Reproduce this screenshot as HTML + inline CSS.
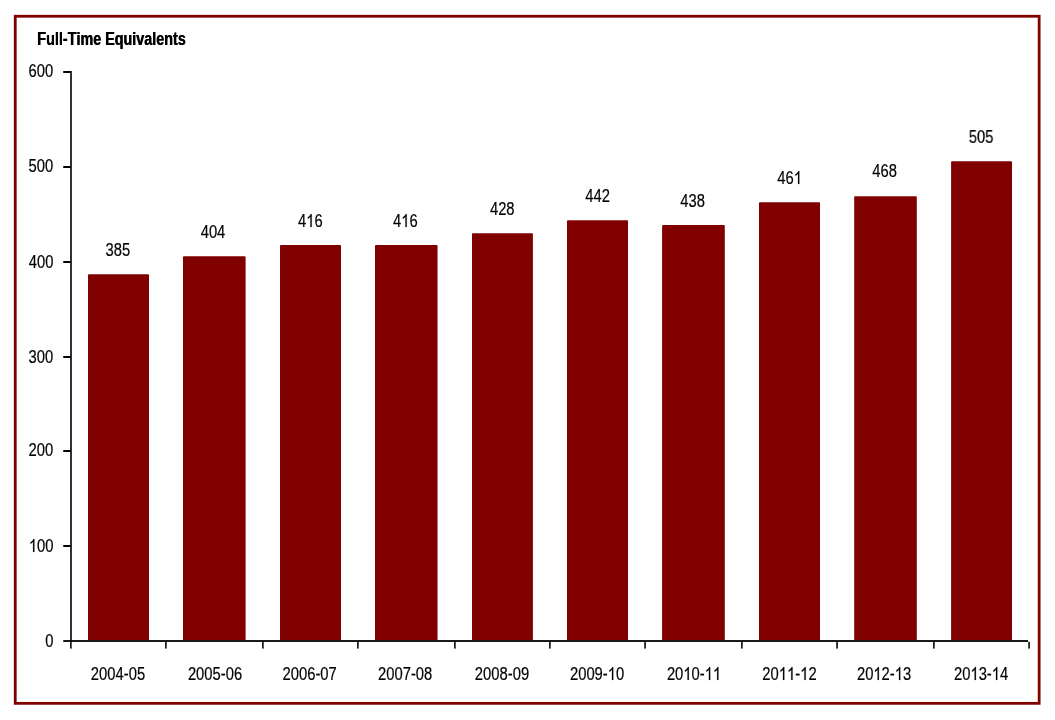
<!DOCTYPE html>
<html><head><meta charset="utf-8"><title>Full-Time Equivalents</title>
<style>
html,body{margin:0;padding:0;background:#fff;}
body{width:1055px;height:720px;overflow:hidden;font-family:"Liberation Sans",sans-serif;}
svg{display:block;will-change:transform;}
text{font-family:"Liberation Sans",sans-serif;fill:#000;font-size:17.6px;font-kerning:none;}
g.t{filter:grayscale(1);}
g.n text{stroke:#000;stroke-width:0.2;}
g.b text{font-weight:bold;}
path.one{fill:#000;stroke:#000;stroke-width:23.3;}
</style></head><body>
<svg width="1055" height="720" viewBox="0 0 1055 720">
<rect x="0" y="0" width="1055" height="720" fill="#ffffff"/>
<!-- outer frame -->
<rect x="15.25" y="16.25" width="1023.9" height="687.1" fill="none" stroke="#800000" stroke-width="2.8"/>
<!-- bars -->
<g fill="#800000">
<path d="M88.00 640.1V275.15Q88.00 274.25 88.90 274.25H148.10Q149.00 274.25 149.00 275.15V640.1Z"/>
<path d="M183.00 640.1V257.15Q183.00 256.25 183.90 256.25H244.70Q245.60 256.25 245.60 257.15V640.1Z"/>
<path d="M280.00 640.1V245.95Q280.00 245.05 280.90 245.05H340.10Q341.00 245.05 341.00 245.95V640.1Z"/>
<path d="M375.00 640.1V245.95Q375.00 245.05 375.90 245.05H436.60Q437.50 245.05 437.50 245.95V640.1Z"/>
<path d="M472.00 640.1V234.05Q472.00 233.15 472.90 233.15H532.00Q532.90 233.15 532.90 234.05V640.1Z"/>
<path d="M567.00 640.1V221.15Q567.00 220.25 567.90 220.25H627.10Q628.00 220.25 628.00 221.15V640.1Z"/>
<path d="M662.10 640.1V225.95Q662.10 225.05 663.00 225.05H723.90Q724.80 225.05 724.80 225.95V640.1Z"/>
<path d="M759.00 640.1V203.05Q759.00 202.15 759.90 202.15H819.10Q820.00 202.15 820.00 203.05V640.1Z"/>
<path d="M854.20 640.1V197.05Q854.20 196.15 855.10 196.15H915.90Q916.80 196.15 916.80 197.05V640.1Z"/>
<path d="M951.10 640.1V162.05Q951.10 161.15 952.00 161.15H1011.10Q1012.00 161.15 1012.00 162.05V640.1Z"/>
</g>
<!-- axes -->
<g fill="#000000">
<rect x="70.2" y="71" width="1.6" height="571"/>
<rect x="63.25" y="640.1" width="964.8" height="1.8"/>
<rect x="63.25" y="71.00" width="7.5" height="2"/>
<rect x="63.25" y="166.00" width="7.5" height="2"/>
<rect x="63.25" y="261.00" width="7.5" height="2"/>
<rect x="63.25" y="356.00" width="7.5" height="2"/>
<rect x="63.25" y="450.00" width="7.5" height="2"/>
<rect x="63.25" y="545.00" width="7.5" height="2"/>
<rect x="70.10" y="641.0" width="1.55" height="7.6"/>
<rect x="165.10" y="641.0" width="1.55" height="7.6"/>
<rect x="262.10" y="641.0" width="1.55" height="7.6"/>
<rect x="357.10" y="641.0" width="1.55" height="7.6"/>
<rect x="454.10" y="641.0" width="1.55" height="7.6"/>
<rect x="549.10" y="641.0" width="1.55" height="7.6"/>
<rect x="644.30" y="641.0" width="1.55" height="7.6"/>
<rect x="741.10" y="641.0" width="1.55" height="7.6"/>
<rect x="836.30" y="641.0" width="1.55" height="7.6"/>
<rect x="933.10" y="641.0" width="1.55" height="7.6"/>
<rect x="1028.30" y="641.8" width="1.55" height="6.8"/>
</g>
<!-- text -->
<g class="t">
<g class="n">
<text transform="translate(28.50 77.00) scale(0.84 1)">600</text>
<text transform="translate(28.54 172.00) scale(0.84 1)">500</text>
<text transform="translate(28.84 268.00) scale(0.84 1)">400</text>
<text transform="translate(28.54 363.00) scale(0.84 1)">300</text>
<text transform="translate(28.51 456.00) scale(0.84 1)">200</text>
<path class="one" transform="translate(28.86 552.00) scale(0.007219 -0.008832)" d="M763 0L583 0L583 1147Q518 1085 412.5 1023Q307 961 223 930L223 1104Q374 1175 487 1276Q600 1377 647 1472L763 1472Z"/>
<text transform="translate(37.08 552.00) scale(0.84 1)">00</text>
<text transform="translate(45.22 647.00) scale(0.84 1)">0</text>
<text transform="translate(105.61 256.00) scale(0.84 1)">385</text>
<text transform="translate(90.85 680.00) scale(0.84 1)">2004-05</text>
<text transform="translate(200.66 238.00) scale(0.84 1)">404</text>
<text transform="translate(187.89 680.00) scale(0.84 1)">2005-06</text>
<text transform="translate(297.98 227.00) scale(0.84 1)">4</text>
<path class="one" transform="translate(306.20 227.00) scale(0.007219 -0.008832)" d="M763 0L583 0L583 1147Q518 1085 412.5 1023Q307 961 223 930L223 1104Q374 1175 487 1276Q600 1377 647 1472L763 1472Z"/>
<text transform="translate(314.42 227.00) scale(0.84 1)">6</text>
<text transform="translate(282.52 680.00) scale(0.84 1)">2006-07</text>
<text transform="translate(392.98 227.00) scale(0.84 1)">4</text>
<path class="one" transform="translate(401.20 227.00) scale(0.007219 -0.008832)" d="M763 0L583 0L583 1147Q518 1085 412.5 1023Q307 961 223 930L223 1104Q374 1175 487 1276Q600 1377 647 1472L763 1472Z"/>
<text transform="translate(409.42 227.00) scale(0.84 1)">6</text>
<text transform="translate(378.00 680.00) scale(0.84 1)">2007-08</text>
<text transform="translate(489.92 215.00) scale(0.84 1)">428</text>
<text transform="translate(474.85 680.00) scale(0.84 1)">2008-09</text>
<text transform="translate(585.23 202.00) scale(0.84 1)">442</text>
<text transform="translate(569.94 680.00) scale(0.84 1)">2009-</text>
<path class="one" transform="translate(607.75 680.00) scale(0.007219 -0.008832)" d="M763 0L583 0L583 1147Q518 1085 412.5 1023Q307 961 223 930L223 1104Q374 1175 487 1276Q600 1377 647 1472L763 1472Z"/>
<text transform="translate(615.97 680.00) scale(0.84 1)">0</text>
<text transform="translate(680.29 207.00) scale(0.84 1)">438</text>
<text transform="translate(666.89 680.00) scale(0.84 1)">20</text>
<path class="one" transform="translate(683.33 680.00) scale(0.007219 -0.008832)" d="M763 0L583 0L583 1147Q518 1085 412.5 1023Q307 961 223 930L223 1104Q374 1175 487 1276Q600 1377 647 1472L763 1472Z"/>
<text transform="translate(691.56 680.00) scale(0.84 1)">0-</text>
<path class="one" transform="translate(704.70 680.00) scale(0.007219 -0.008832)" d="M763 0L583 0L583 1147Q518 1085 412.5 1023Q307 961 223 930L223 1104Q374 1175 487 1276Q600 1377 647 1472L763 1472Z"/>
<path class="one" transform="translate(712.92 680.00) scale(0.007219 -0.008832)" d="M763 0L583 0L583 1147Q518 1085 412.5 1023Q307 961 223 930L223 1104Q374 1175 487 1276Q600 1377 647 1472L763 1472Z"/>
<text transform="translate(777.36 184.00) scale(0.84 1)">46</text>
<path class="one" transform="translate(793.80 184.00) scale(0.007219 -0.008832)" d="M763 0L583 0L583 1147Q518 1085 412.5 1023Q307 961 223 930L223 1104Q374 1175 487 1276Q600 1377 647 1472L763 1472Z"/>
<text transform="translate(762.36 680.00) scale(0.84 1)">20</text>
<path class="one" transform="translate(778.80 680.00) scale(0.007219 -0.008832)" d="M763 0L583 0L583 1147Q518 1085 412.5 1023Q307 961 223 930L223 1104Q374 1175 487 1276Q600 1377 647 1472L763 1472Z"/>
<path class="one" transform="translate(787.03 680.00) scale(0.007219 -0.008832)" d="M763 0L583 0L583 1147Q518 1085 412.5 1023Q307 961 223 930L223 1104Q374 1175 487 1276Q600 1377 647 1472L763 1472Z"/>
<text transform="translate(795.25 680.00) scale(0.84 1)">-</text>
<path class="one" transform="translate(800.17 680.00) scale(0.007219 -0.008832)" d="M763 0L583 0L583 1147Q518 1085 412.5 1023Q307 961 223 930L223 1104Q374 1175 487 1276Q600 1377 647 1472L763 1472Z"/>
<text transform="translate(808.39 680.00) scale(0.84 1)">2</text>
<text transform="translate(872.23 177.00) scale(0.84 1)">468</text>
<text transform="translate(856.95 680.00) scale(0.84 1)">20</text>
<path class="one" transform="translate(873.39 680.00) scale(0.007219 -0.008832)" d="M763 0L583 0L583 1147Q518 1085 412.5 1023Q307 961 223 930L223 1104Q374 1175 487 1276Q600 1377 647 1472L763 1472Z"/>
<text transform="translate(881.62 680.00) scale(0.84 1)">2-</text>
<path class="one" transform="translate(894.76 680.00) scale(0.007219 -0.008832)" d="M763 0L583 0L583 1147Q518 1085 412.5 1023Q307 961 223 930L223 1104Q374 1175 487 1276Q600 1377 647 1472L763 1472Z"/>
<text transform="translate(902.98 680.00) scale(0.84 1)">3</text>
<text transform="translate(968.78 143.00) scale(0.84 1)">505</text>
<text transform="translate(953.96 680.00) scale(0.84 1)">20</text>
<path class="one" transform="translate(970.40 680.00) scale(0.007219 -0.008832)" d="M763 0L583 0L583 1147Q518 1085 412.5 1023Q307 961 223 930L223 1104Q374 1175 487 1276Q600 1377 647 1472L763 1472Z"/>
<text transform="translate(978.63 680.00) scale(0.84 1)">3-</text>
<path class="one" transform="translate(991.77 680.00) scale(0.007219 -0.008832)" d="M763 0L583 0L583 1147Q518 1085 412.5 1023Q307 961 223 930L223 1104Q374 1175 487 1276Q600 1377 647 1472L763 1472Z"/>
<text transform="translate(999.99 680.00) scale(0.84 1)">4</text>
</g>
<g class="b">
<text transform="translate(37.11 45.00) scale(0.817 1)">Full-Time Equivalents</text>
<text transform="translate(37.56 45.00) scale(0.817 1)">Full-Time Equivalents</text>
</g>
</g>
</svg>
</body></html>
